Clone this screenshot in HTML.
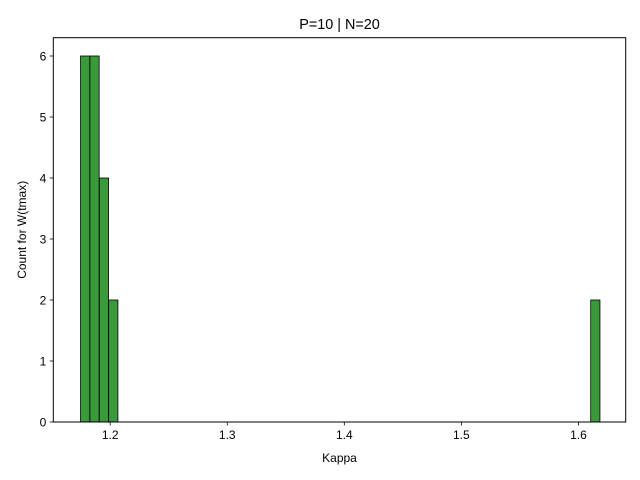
<!DOCTYPE html>
<html><head><meta charset="utf-8"><style>
body{margin:0;background:#fff;}
svg{display:block;font-family:"Liberation Sans","DejaVu Sans",sans-serif;}
</style></head><body>
<svg id="chart" width="640" height="480">
<text x="339.5" y="29" text-anchor="middle" font-size="14.4">P=10 | N=20</text>
<g id="bars"></g>
<g id="axes"></g>
<text x="339.5" y="462" text-anchor="middle" font-size="12">Kappa</text>
<text transform="translate(26,229.8) rotate(-90)" text-anchor="middle" font-size="12">Count for W(tmax)</text>
</svg>
<script>
const binStarts=[1.1747,1.1827,1.1907,1.1987,1.6105];
const counts=[6,6,4,2,2];
const binWidth=0.0079;
const xTicks=[1.2,1.3,1.4,1.5,1.6];
const xTickLabels=["1.2","1.3","1.4","1.5","1.6"];
const yTicks=[0,1,2,3,4,5,6];
const yTickLabels=["0","1","2","3","4","5","6"];
const L=53.3,R=625.7,T=37.7,B=422;
const xMin=1.1514,xMax=1.6404,yMax=6.3;
const xs=v=>L+(v-xMin)/(xMax-xMin)*(R-L);
const ys=v=>B-v/yMax*(B-T);
const NS="http://www.w3.org/2000/svg";
function mk(t,a){const e=document.createElementNS(NS,t);for(const k in a)e.setAttribute(k,a[k]);return e;}
const bars=document.getElementById('bars');
binStarts.forEach((s,i)=>{
 const x0=xs(s),x1=xs(s+binWidth),y=ys(counts[i]);
 const r=mk('rect',{x:x0,y:y,width:x1-x0,height:B-y,fill:'#3a9a3a',stroke:'#000','stroke-width':0.8});
 
 
 bars.appendChild(r);
});
const ax=document.getElementById('axes');
const fr=mk('rect',{x:L,y:T,width:R-L,height:B-T,fill:'none',stroke:'#000','stroke-width':1});


ax.appendChild(fr);
xTicks.forEach((v,i)=>{
 const x=xs(v);
 ax.appendChild(mk('line',{x1:x,x2:x,y1:B,y2:B+3.5,stroke:'#000','stroke-width':0.8}));
 const t=mk('text',{x:x,y:B+17,'text-anchor':'middle','font-size':12});
 t.textContent=xTickLabels[i];
 
 
 ax.appendChild(t);
});
yTicks.forEach((v,i)=>{
 const y=ys(v);
 ax.appendChild(mk('line',{x1:L-3.5,x2:L,y1:y,y2:y,stroke:'#000','stroke-width':0.8}));
 const t=mk('text',{x:L-7,y:y+4.3,'text-anchor':'end','font-size':12});
 t.textContent=yTickLabels[i];
 
 
 ax.appendChild(t);
});
</script>
</body></html>
